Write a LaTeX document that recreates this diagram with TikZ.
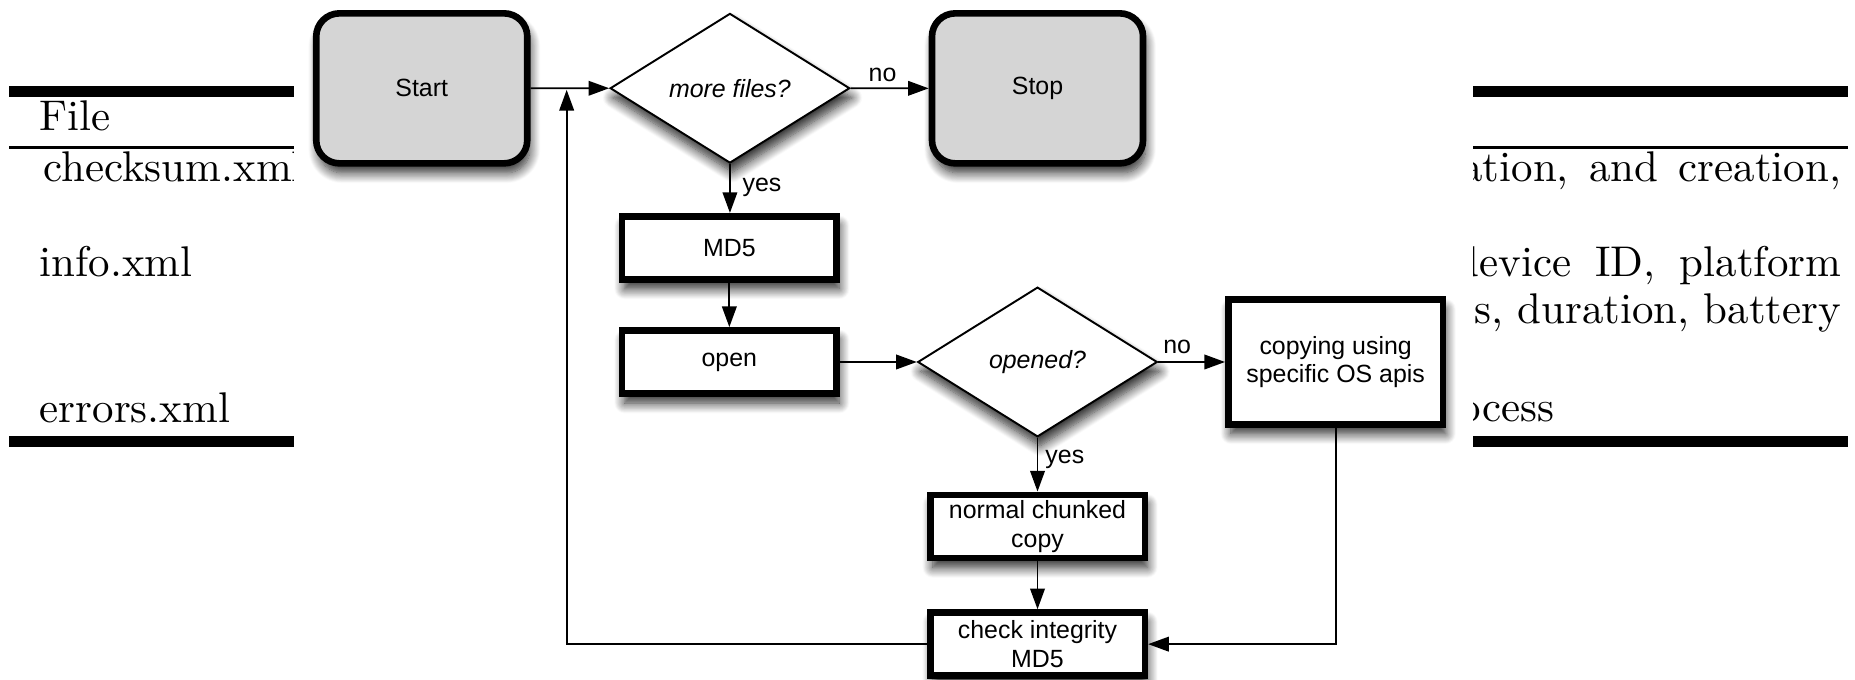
\documentclass[tikz,border=0pt]{standalone}
\usepackage{fontspec}
\newfontfamily\flowfont{Liberation Sans}
\usetikzlibrary{arrows.meta,shapes.geometric,shadows.blur}
\definecolor{boxgray}{RGB}{213,213,213}
\begin{document}
\begin{tikzpicture}[x=0.2755pt,y=-0.2755pt,
  ffont/.style={font=\flowfont\fontsize{5.8}{6.6}\selectfont},
  conn/.style={line width=0.4pt,-{Triangle[length=4.8pt,width=3.4pt]}},
  shade/.style={blur shadow={shadow xshift=0.6pt,shadow yshift=-2.2pt,shadow blur radius=2.4pt,shadow blur steps=12,shadow opacity=85}},
  term/.style={draw,line width=1.54pt,rounded corners=5.4pt,fill=boxgray,minimum width=49.15pt,minimum height=34.93pt,inner sep=0pt,shade,ffont},
  proc/.style={draw,line width=1.54pt,fill=white,minimum width=49.98pt,minimum height=14.71pt,inner sep=0pt,align=center,shade,ffont},
  dec/.style={diamond,aspect=1.6,draw,line width=0.45pt,fill=white,minimum width=55.79pt,minimum height=34.85pt,inner sep=0pt,shade,font=\flowfont\itshape\fontsize{5.8}{6.6}\selectfont},
  lbl/.style={ffont,inner sep=0pt},
  tab/.style={font=\fontsize{10}{12}\selectfont,inner sep=0pt},
  thickrule/.style={line width=2.5pt},
  thinrule/.style={line width=0.75pt}]
\useasboundingbox (0,0) rectangle (1568,574);
% table rules
\draw[thickrule] (7.9,77.5) -- (248.5,77.5);
\draw[thickrule] (1245.4,77.5) -- (1562.4,77.5);
\draw[thinrule] (7.9,124.8) -- (248.5,124.8);
\draw[thinrule] (1245.4,124.8) -- (1562.4,124.8);
\draw[thickrule] (7.9,373) -- (248.5,373);
\draw[thickrule] (1245.4,373) -- (1562.4,373);
% table text, left column
\node[tab,anchor=base west] (tfile) at (33,110) {File};
\begin{scope}
\clip (0,0) rectangle (248.5,574);
\node[tab,anchor=base west] (tcheck) at (36,153.6) {checksum.xml};
\end{scope}
\node[tab,anchor=base west] (tinfo) at (33,233.9) {info.xml};
\node[tab,anchor=base west] (terr) at (33,357) {errors.xml};
% table text, right column
\begin{scope}
\clip (1245.4,0) rectangle (1568,574);
\node[tab,anchor=base east] (rone) at (1557,153.6) {\hbox to 88.4pt{ation,\hfill and\hfill creation,}};
\node[tab,anchor=base east] (rtwo) at (1557,233.9) {\hbox to 89.8pt{device\hfill ID,\hfill platform}};
\node[tab,anchor=base east] (rthree) at (1557,273.3) {s, duration, battery};
\node[tab,anchor=base east] (rfour) at (1314.5,356.5) {ocess};
\end{scope}
% flowchart
\node[term] (start) at (356.5,74.7) {Start};
\node[term] (stop) at (877,74.7) {Stop};
\node[dec] (more) at (617,74.6) {more files?};
\node[proc] (md5) at (616.5,209.5) {MD5};
\node[proc] (open) at (616.5,306) {open};
\node[dec] (opened) at (877,306) {opened?};
\node[proc,minimum height=29.04pt] (copy) at (1129,306) {copying using\\specific OS apis};
\node[proc] (chunk) at (877,445) {normal chunked\\copy};
\node[proc] (check) at (877,544.5) {check integrity\\MD5};
% labels
\node[lbl,anchor=base] (lno1) at (746,69) {no};
\node[lbl,anchor=base west] (lyes1) at (627,161.6) {yes};
\node[lbl,anchor=base] (lno2) at (995,298.7) {no};
\node[lbl,anchor=base west] (lyes2) at (883,391.4) {yes};
% connectors
\coordinate (cr) at (1129,544.5);
\coordinate (lb) at (479,544.5);
\coordinate (lt) at (479,76);
\draw[conn] (start.east) -- (more.west);
\draw[conn] (more.east) -- (stop.west);
\draw[conn] (more.south) -- (more.south |- md5.north);
\draw[conn] (md5) -- (open);
\draw[conn] (open.east) -- (opened.west);
\draw[conn] (opened.east) -- (copy.west);
\draw[conn] (opened.south) -- (chunk.north);
\draw[conn] (chunk) -- (check);
\draw[conn] (copy.south) -- (cr) -- (check.east);
\draw[conn] (check.west) -- (lb) -- (lt);
\end{tikzpicture}
\end{document}
